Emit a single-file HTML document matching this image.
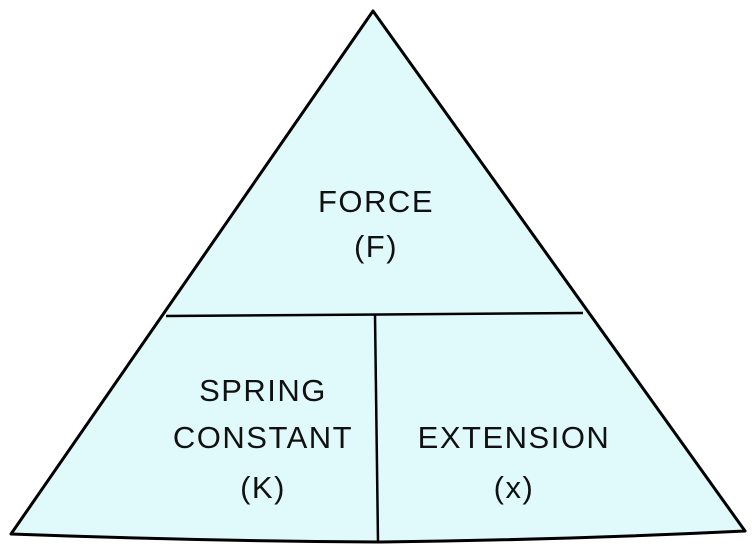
<!DOCTYPE html>
<html><head><style>
html,body{margin:0;padding:0;background:#fff;}
svg{display:block;}
text{font-family:"Liberation Sans",sans-serif;font-size:31px;letter-spacing:1.5px;fill:#111;text-anchor:middle;}
</style></head><body>
<svg width="752" height="551" viewBox="0 0 752 551">
<path d="M373 11 L745 531 Q560 540 378 542 Q200 541 11 534 Z" fill="#e0fafc" stroke="#000" stroke-width="3" stroke-linejoin="round"/>
<line x1="166" y1="316" x2="583" y2="313" stroke="#000" stroke-width="2.5"/>
<line x1="375" y1="315" x2="378" y2="542" stroke="#000" stroke-width="2.5"/>
<text x="376" y="212">FORCE</text>
<text x="376" y="257">(F)</text>
<text x="263" y="401">SPRING</text>
<text x="263" y="448">CONSTANT</text>
<text x="263" y="498">(K)</text>
<text x="514" y="448">EXTENSION</text>
<text x="514" y="498">(x)</text>
</svg>
</body></html>
